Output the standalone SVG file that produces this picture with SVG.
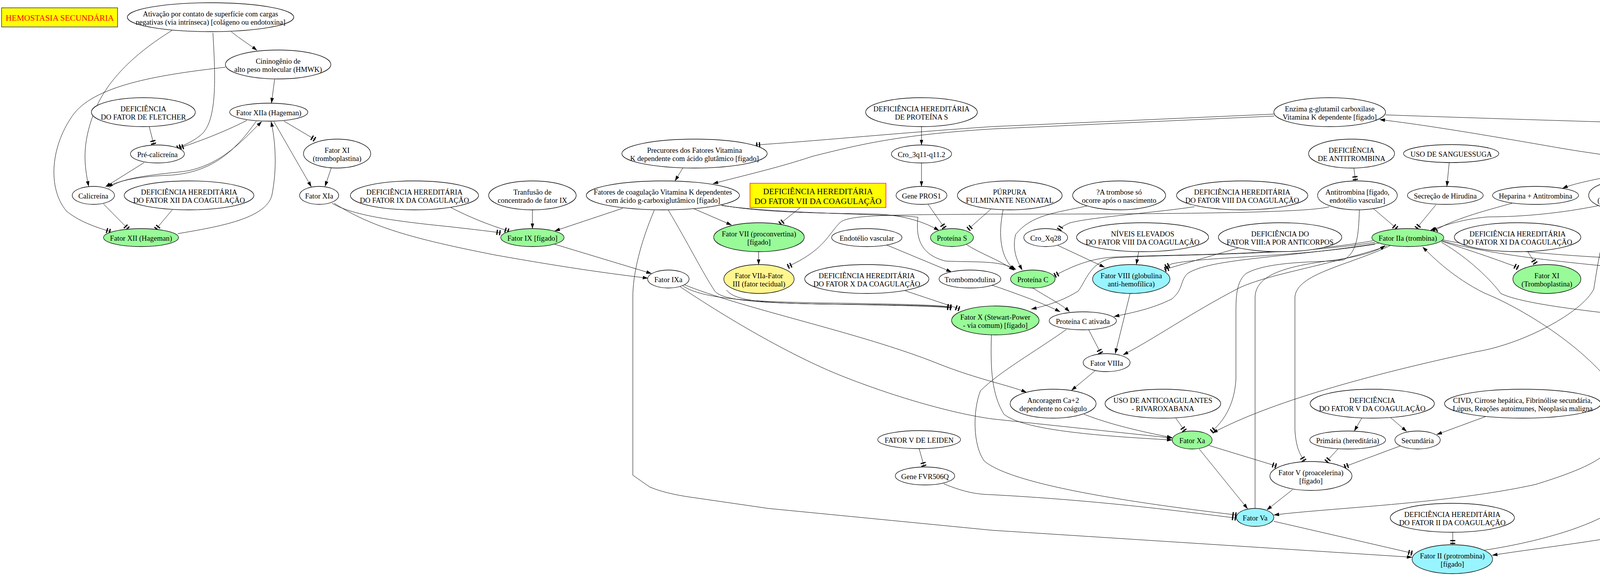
<svg xmlns="http://www.w3.org/2000/svg" width="7621" height="1474" viewBox="0 0 7621 1474">
<style>
ellipse{stroke:#000;stroke-width:1.3;fill:#fff}
ellipse.g{fill:#98fb98}
ellipse.c{fill:#98f5ff}
ellipse.k{fill:#fff68f}
text{font-family:"Liberation Serif","Times New Roman",serif;font-size:18.7px;text-anchor:middle;fill:#000}
.e path{fill:none;stroke:#000;stroke-width:1}
.e path.a{marker-end:url(#a)}
.e path.t{marker-end:url(#t)}
</style>
<defs>
<marker id="a" viewBox="0 0 14 10" refX="13.5" refY="5" markerWidth="14" markerHeight="10" orient="auto" markerUnits="userSpaceOnUse"><path d="M0,0.5L14,5L0,9.5z" fill="#000"/></marker>
<marker id="t" viewBox="0 0 14 14" refX="14" refY="7" markerWidth="14" markerHeight="14" orient="auto" markerUnits="userSpaceOnUse"><path d="M2,0.5h3v13h-3zM9,0.5h3v13h-3z" fill="#000"/></marker>
</defs>
<rect width="7621" height="1474" fill="#fff"/>
<g id="edges" class="e">
<path class="a" d="M592,81C615,100 640,115 658,129"/>
<path class="a" d="M440,78C340,140 270,210 240,290C210,370 215,420 227,477"/>
<path class="t" d="M545,84C552,200 555,300 520,340C500,360 470,372 452,380"/>
<path class="a" d="M703,203L695,264"/>
<path class="t" d="M577,172C420,190 250,215 190,290C130,370 120,480 170,540C200,565 240,580 284,593"/>
<path class="t" d="M382,324L394,371"/>
<path class="t" d="M632,308C570,340 500,365 458,379"/>
<path class="a" d="M369,416L270,478"/>
<path class="a" d="M656,310C600,390 540,440 440,448C340,452 300,465 275,478"/>
<path class="a" d="M278,482C300,460 360,450 460,440C560,430 620,360 670,311"/>
<path class="a" d="M455,598C560,580 680,560 696,500C710,430 705,360 694,311"/>
<path class="t" d="M727,310L808,358"/>
<path class="a" d="M701,311L797,478"/>
<path class="a" d="M848,430L832,477"/>
<path class="t" d="M265,522L329,587"/>
<path class="t" d="M441,537L398,588"/>
<path class="t" d="M850,520C900,550 1000,565 1150,580C1220,588 1255,592 1283,596"/>
<path class="a" d="M855,520C950,580 1050,610 1270,653C1450,685 1560,700 1659,712"/>
<path class="t" d="M1154,531C1200,555 1250,575 1304,592"/>
<path class="a" d="M1363,537L1363,585"/>
<path class="a" d="M1594,533L1420,591"/>
<path class="a" d="M1420,625L1668,700"/>
<path class="a" d="M1748,430L1728,463"/>
<path class="a" d="M1776,534L1873,576"/>
<path class="t" d="M2049,531L1995,574"/>
<path class="a" d="M1942,644L1942,677"/>
<path class="a" d="M1675,538C1640,620 1620,700 1620,760L1620,1216L1663,1246C1700,1262 1750,1270 1780,1274L1966,1301L2540,1357L3615,1426"/>
<path class="t" d="M3261,292L2540,324C2300,340 2100,360 1934,371"/>
<path class="a" d="M3262,297L2540,330C2300,345 2200,370 2080,400C1990,430 1900,450 1825,470"/>
<path class="a" d="M1842,524C1950,545 2100,545 2250,548C2320,552 2370,570 2404,590"/>
<path class="a" d="M1848,526C2000,548 2300,548 2350,556C2345,600 2350,650 2420,668C2500,672 2560,665 2601,690"/>
<path class="t" d="M3403,529C3350,545 3000,548 2540,548C2300,550 2170,548 2150,570C2120,600 2110,640 2015,683"/>
<path class="a" d="M2359,324L2359,371"/>
<path class="a" d="M2359,417L2359,477"/>
<path class="t" d="M2376,523L2419,585"/>
<path class="t" d="M2538,534L2477,588"/>
<path class="a" d="M2568,537C2555,600 2560,660 2598,691"/>
<path class="a" d="M2783,527C2700,545 2640,550 2600,600C2590,640 2605,670 2617,691"/>
<path class="a" d="M2473,625C2510,650 2560,665 2596,692"/>
<path class="a" d="M2270,627L2436,696"/>
<path class="t" d="M1860,742C1880,770 1950,775 2100,778C2300,780 2400,782 2437,787"/>
<path class="t" d="M1746,730C1790,762 1900,772 2100,775C2300,778 2400,780 2437,786"/>
<path class="t" d="M1711,538C1760,620 1800,700 1830,745C1850,770 1950,775 2100,778C2300,781 2400,784 2437,788"/>
<path class="t" d="M2311,742L2458,791"/>
<path class="a" d="M1748,727C1900,790 2200,850 2400,930C2500,970 2580,985 2628,1004"/>
<path class="a" d="M1740,733C1900,840 2050,920 2150,960C2300,1020 2450,1060 2540,1072L3001,1121"/>
<path class="a" d="M2538,857C2535,950 2540,1010 2570,1060C2620,1100 2800,1115 3001,1126"/>
<path class="t" d="M2730,843C2650,900 2560,950 2510,1000C2490,1050 2490,1140 2520,1180C2580,1230 2800,1275 3167,1318"/>
<path class="t" d="M2416,1238C2470,1260 2500,1265 2540,1266C2800,1280 3000,1305 3166,1326"/>
<path class="t" d="M2353,1148L2366,1195"/>
<path class="a" d="M2644,737C2680,760 2720,780 2738,798"/>
<path class="a" d="M2540,730C2600,750 2680,780 2714,798"/>
<path class="a" d="M3520,620C3300,655 3000,650 2850,660C2790,670 2780,720 2760,745C2720,770 2680,782 2640,791"/>
<path class="t" d="M3515,616C3300,655 3000,650 2850,658C2780,662 2730,690 2698,706"/>
<path class="t" d="M3520,625C3300,660 3100,655 3000,675L2982,684"/>
<path class="t" d="M3172,634L2980,690"/>
<path class="a" d="M2706,627L2828,684"/>
<path class="a" d="M2915,644L2909,677"/>
<path class="t" d="M3058,529C2950,545 2800,555 2740,570C2725,576 2715,582 2710,590"/>
<path class="t" d="M3466,430L3470,463"/>
<path class="a" d="M3710,416L3704,477"/>
<path class="t" d="M3676,524L3625,586"/>
<path class="t" d="M3516,534L3577,586"/>
<path class="t" d="M3480,537C3478,600 3475,645 3440,665C3400,672 3250,665 3190,700C3165,720 3164,760 3164,800L3164,970C3160,1040 3130,1080 3100,1106"/>
<path class="a" d="M4093,526C4000,545 3900,555 3810,555C3750,560 3700,575 3661,590"/>
<path class="t" d="M3871,520C3800,540 3720,560 3668,593"/>
<path class="a" d="M3213,1301L3213,760C3215,700 3300,680 3420,665C3490,655 3530,640 3546,628"/>
<path class="a" d="M3800,1408C3950,1385 4100,1340 4150,1290C4200,1230 4195,1100 4150,1020C4080,900 3900,790 3800,750C3720,710 3670,660 3642,632"/>
<path class="t" d="M3560,628C3450,680 3320,700 3315,760L3315,1100C3318,1150 3330,1165 3340,1181"/>
<path class="a" d="M3550,630C3400,680 3250,700 3172,737C3050,800 2950,870 2875,908"/>
<path class="a" d="M3530,622C3300,660 3100,660 3040,700C3020,720 3030,740 3000,765C2950,790 2900,800 2852,810"/>
<path class="t" d="M3690,617C3760,640 3820,660 3860,675C3875,680 3882,683 3888,686"/>
<path class="t" d="M3692,616C3800,650 4000,670 4100,680C4180,688 4210,692 4231,697"/>
<path class="t" d="M3694,614C3900,655 4200,665 4400,670C4600,680 4780,695 4854,705"/>
<path class="a" d="M3690,620C3760,660 3820,720 3842,751C3900,780 4100,800 4248,816"/>
<path class="a" d="M4149,538L4136,780L4136,1125C4120,1170 4060,1200 3930,1240C3700,1290 3400,1300 3261,1318"/>
<path class="a" d="M4130,537C4100,600 4090,680 4080,740C4050,800 3900,880 3780,900C3500,960 3250,1030 3104,1108"/>
<path class="a" d="M4215,526C4300,548 4450,540 4500,570C4540,610 4500,670 4436,697"/>
<path class="a" d="M4230,530C4350,552 4500,545 4550,570C4585,600 4580,700 4582,760C4585,830 4640,870 4778,904"/>
<path class="a" d="M4239,505C4400,530 4560,560 4610,600C4660,660 4700,700 4760,740C4820,775 4860,790 4887,798"/>
<path class="a" d="M4774,644C4790,700 4820,740 4860,770C4880,785 4890,792 4899,798"/>
<path class="t" d="M4818,637L4899,681"/>
<path class="a" d="M4976,644L4972,676"/>
<path class="a" d="M4957,751L4946,797"/>
<path class="t" d="M5189,638C5150,655 5110,672 5053,691"/>
<path class="a" d="M5525,629C5400,660 5200,690 5078,710"/>
<path class="t" d="M3911,644L3932,676"/>
<path class="t" d="M4331,644L4331,677"/>
<path class="a" d="M4331,751L4331,783"/>
<path class="a" d="M4413,833C4550,860 4700,885 4778,906"/>
<path class="a" d="M4782,857L4818,904"/>
<path class="a" d="M4916,844L4867,904"/>
<path class="a" d="M4964,843L5017,892"/>
<path class="a" d="M4304,948C4380,980 4450,1000 4503,1019"/>
<path class="a" d="M4482,950L4531,1011"/>
<path class="t" d="M4624,950L4580,1012"/>
<path class="a" d="M4786,948C4700,980 4650,1000 4602,1019"/>
<path class="a" d="M4843,950L4843,1011"/>
<path class="a" d="M5060,964L5060,1011"/>
<path class="t" d="M4347,1254L4336,1301"/>
<path class="a" d="M4280,1343C4150,1380 3950,1400 3820,1421"/>
<path class="a" d="M4328,412C4200,440 4050,460 4000,482"/>
<path class="a" d="M4452,324L4452,356"/>
<path class="a" d="M3547,294C4000,310 4700,330 5200,340C5400,345 5550,350 5619,365"/>
<path class="a" d="M5760,579C5600,520 5400,500 5080,484C4800,470 4300,430 4000,380C3800,345 3650,320 3532,306"/>
<path class="t" d="M5686,324L5686,356"/>
<path class="a" d="M5756,319C5800,360 5820,420 5823,477"/>
<path class="a" d="M5983,324L5981,356"/>
<path class="a" d="M6266,68L6266,142"/>
<path class="a" d="M6266,188L6266,264"/>
<path class="a" d="M6260,310L6249,371"/>
<path class="a" d="M6181,413C6100,440 6000,465 5896,484"/>
<path class="t" d="M5537,421C5600,450 5700,472 5748,483"/>
<path class="a" d="M5732,428L5793,478"/>
<path class="t" d="M5930,428L5857,479"/>
<path class="a" d="M5517,425C5600,500 5700,550 5768,577"/>
<path class="a" d="M5823,523L5823,570"/>
<path class="a" d="M6492,81L6510,128"/>
<path class="t" d="M6717,78L6593,137"/>
<path class="t" d="M6789,81L6789,128"/>
<path class="t" d="M7055,81L7055,142"/>
<path class="t" d="M7391,81L7391,113"/>
<path class="a" d="M7391,218L7391,264"/>
<path class="a" d="M3486,1070L3467,1103"/>
<path class="a" d="M3559,1068L3601,1104"/>
<path class="a" d="M3803,1066L3678,1112"/>
<path class="t" d="M3425,1149L3394,1183"/>
<path class="t" d="M3585,1141L3440,1195"/>
<path class="t" d="M3095,1140L3269,1193"/>
<path class="a" d="M3070,1149L3194,1302"/>
<path class="a" d="M3309,1253L3243,1305"/>
<path class="t" d="M3261,1334L3617,1416"/>
<path class="t" d="M3719,1362L3719,1394"/>
<path class="t" d="M2787,844L2819,906"/>
<path class="a" d="M2893,751L2855,905"/>
<path class="a" d="M2803,949L2743,999"/>
<path class="a" d="M2775,1060C2850,1090 2950,1110 3001,1120"/>
<path class="t" d="M3010,1070L3034,1104"/>
</g>
<g id="n_hemo"><rect x="4" y="20" width="297" height="49" fill="#ffff00" stroke="#0000ff" stroke-width="1.3"/><text x="153" y="53" style="font-size:21.3px;fill:#ff0000">HEMOSTASIA SECUNDÁRIA</text></g>
<g id="n_ativ"><ellipse cx="539" cy="44" rx="213" ry="37"/><text x="539" y="41.5">Ativação por contato de superfície com cargas<tspan x="539" dy="21.5">negativas (via intrínseca) [colágeno ou endotoxina]</tspan></text></g>
<g id="n_cinin"><ellipse cx="712" cy="165" rx="135" ry="37"/><text x="712" y="162.5">Cininogênio de<tspan x="712" dy="21.5">alto peso molecular (HMWK)</tspan></text></g>
<g id="n_f12a"><ellipse cx="688" cy="287" rx="100" ry="23"/><text x="688" y="294.5">Fator XIIa (Hageman)</text></g>
<g id="n_fletch"><ellipse cx="367" cy="287" rx="133" ry="37"/><text x="367" y="284.5">DEFICIÊNCIA<tspan x="367" dy="21.5">DO FATOR DE FLETCHER</tspan></text></g>
<g id="n_precal"><ellipse cx="403" cy="394" rx="69" ry="23"/><text x="403" y="401.5">Pré-calicreína</text></g>
<g id="n_f11"><ellipse cx="863" cy="393" rx="86" ry="37"/><text x="863" y="390.5">Fator XI<tspan x="863" dy="21.5">(tromboplastina)</tspan></text></g>
<g id="n_calic"><ellipse cx="239" cy="500" rx="54" ry="23"/><text x="239" y="507.5">Calicreína</text></g>
<g id="n_def12"><ellipse cx="484" cy="500" rx="166" ry="37"/><text x="484" y="497.5">DEFICIÊNCIA HEREDITÁRIA<tspan x="484" dy="21.5">DO FATOR XII DA COAGULAÇÃO</tspan></text></g>
<g id="n_f11a"><ellipse cx="817" cy="500" rx="50" ry="23"/><text x="817" y="507.5">Fator XIa</text></g>
<g id="n_def9"><ellipse cx="1061" cy="500" rx="164" ry="37"/><text x="1061" y="497.5">DEFICIÊNCIA HEREDITÁRIA<tspan x="1061" dy="21.5">DO FATOR IX DA COAGULAÇÃO</tspan></text></g>
<g id="n_f12"><ellipse class="g" cx="361" cy="608" rx="96" ry="23"/><text x="361" y="615.5">Fator XII (Hageman)</text></g>
<g id="n_transf"><ellipse cx="1363" cy="500" rx="112" ry="37"/><text x="1363" y="497.5">Tranfusão de<tspan x="1363" dy="21.5">concentrado de fator IX</tspan></text></g>
<g id="n_precur"><ellipse cx="1778" cy="393" rx="186" ry="37"/><text x="1778" y="390.5">Precurores dos Fatores Vitamina<tspan x="1778" dy="21.5">K dependente com ácido glutâmico [fígado]</tspan></text></g>
<g id="n_defS"><ellipse cx="2359" cy="287" rx="143" ry="37"/><text x="2359" y="284.5">DEFICIÊNCIA HEREDITÁRIA<tspan x="2359" dy="21.5">DE PROTEÍNA S</tspan></text></g>
<g id="n_cro3"><ellipse cx="2359" cy="394" rx="77" ry="23"/><text x="2359" y="401.5">Cro_3q11-q11.2</text></g>
<g id="n_fatvk"><ellipse cx="1697" cy="500" rx="196" ry="37"/><text x="1697" y="497.5">Fatores de coagulação Vitamina K dependentes<tspan x="1697" dy="21.5">com ácido g-carboxiglutâmico [fígado]</tspan></text></g>
<g id="n_def7"><rect x="1920" y="469" width="348" height="62" fill="#ffff00" stroke="#ff0000" stroke-width="1.3"/><text x="2094" y="496.5" style="font-size:21.3px">DEFICIÊNCIA HEREDITÁRIA<tspan x="2094" dy="25">DO FATOR VII DA COAGULAÇÃO</tspan></text></g>
<g id="n_pros1"><ellipse cx="2359" cy="500" rx="65" ry="23"/><text x="2359" y="507.5">Gene PROS1</text></g>
<g id="n_purp"><ellipse cx="2585" cy="500" rx="134" ry="37"/><text x="2585" y="497.5">PÚRPURA<tspan x="2585" dy="21.5">FULMINANTE NEONATAL</tspan></text></g>
<g id="n_f9"><ellipse class="g" cx="1363" cy="608" rx="81" ry="23"/><text x="1363" y="615.5">Fator IX [fígado]</text></g>
<g id="n_f7"><ellipse class="g" cx="1943" cy="607" rx="116" ry="37"/><text x="1943" y="604.5">Fator VII (proconvertina)<tspan x="1943" dy="21.5">[fígado]</tspan></text></g>
<g id="n_endot"><ellipse cx="2219" cy="608" rx="90" ry="23"/><text x="2219" y="615.5">Endotélio vascular</text></g>
<g id="n_protS"><ellipse class="g" cx="2437" cy="608" rx="55" ry="23"/><text x="2437" y="615.5">Proteína S</text></g>
<g id="n_f9a"><ellipse cx="1711" cy="714" rx="53" ry="23"/><text x="1711" y="721.5">Fator IXa</text></g>
<g id="n_f7a"><ellipse class="k" cx="1943" cy="714" rx="90" ry="37"/><text x="1943" y="711.5">Fator VIIa-Fator<tspan x="1943" dy="21.5">III (fator tecidual)</tspan></text></g>
<g id="n_def10"><ellipse cx="2219" cy="714" rx="159" ry="37"/><text x="2219" y="711.5">DEFICIÊNCIA HEREDITÁRIA<tspan x="2219" dy="21.5">DO FATOR X DA COAGULAÇÃO</tspan></text></g>
<g id="n_tmod"><ellipse cx="2483" cy="714" rx="79" ry="23"/><text x="2483" y="721.5">Trombomodulina</text></g>
<g id="n_ggc"><ellipse cx="3404" cy="287" rx="143" ry="37"/><text x="3404" y="284.5">Enzima g-glutamil carboxilase<tspan x="3404" dy="21.5">Vitamina K dependente [fígado]</tspan></text></g>
<g id="n_defAT"><ellipse cx="3460" cy="393" rx="110" ry="37"/><text x="3460" y="390.5">DEFICIÊNCIA<tspan x="3460" dy="21.5">DE ANTITROMBINA</tspan></text></g>
<g id="n_sang"><ellipse cx="3715" cy="393" rx="122" ry="23"/><text x="3715" y="400.5">USO DE SANGUESSUGA</text></g>
<g id="n_atromb"><ellipse cx="2865" cy="500" rx="119" ry="37"/><text x="2865" y="497.5">?A trombose só<tspan x="2865" dy="21.5">ocorre após o nascimento</tspan></text></g>
<g id="n_def8"><ellipse cx="3180" cy="500" rx="168" ry="37"/><text x="3180" y="497.5">DEFICIÊNCIA HEREDITÁRIA<tspan x="3180" dy="21.5">DO FATOR VIII DA COAGULAÇÃO</tspan></text></g>
<g id="n_at"><ellipse cx="3475" cy="500" rx="102" ry="37"/><text x="3475" y="497.5">Antitrombina [fígado,<tspan x="3475" dy="21.5">endotélio vascular]</tspan></text></g>
<g id="n_hir"><ellipse cx="3700" cy="500" rx="97" ry="23"/><text x="3700" y="507.5">Secreção de Hirudina</text></g>
<g id="n_croX"><ellipse cx="2677" cy="608" rx="56" ry="23"/><text x="2677" y="615.5">Cro_Xq28</text></g>
<g id="n_niv8"><ellipse cx="2925" cy="607" rx="169" ry="37"/><text x="2925" y="604.5">NÍVEIS ELEVADOS<tspan x="2925" dy="21.5">DO FATOR VIII DA COAGULAÇÃO</tspan></text></g>
<g id="n_def8ac"><ellipse cx="3277" cy="607" rx="158" ry="37"/><text x="3277" y="604.5">DEFICIÊNCIA DO<tspan x="3277" dy="21.5">FATOR VIII:A POR ANTICORPOS</tspan></text></g>
<g id="n_f2a"><ellipse class="g" cx="3604" cy="608" rx="92" ry="23"/><text x="3604" y="615.5">Fator IIa (trombina)</text></g>
<g id="n_def11"><ellipse cx="3885" cy="607" rx="162" ry="37"/><text x="3885" y="604.5">DEFICIÊNCIA HEREDITÁRIA<tspan x="3885" dy="21.5">DO FATOR XI DA COAGULAÇÃO</tspan></text></g>
<g id="n_protC"><ellipse class="g" cx="2644" cy="714" rx="57" ry="23"/><text x="2644" y="721.5">Proteína C</text></g>
<g id="n_f8"><ellipse class="c" cx="2896" cy="714" rx="99" ry="37"/><text x="2896" y="711.5">Fator VIII (globulina<tspan x="2896" dy="21.5">anti-hemofílica)</tspan></text></g>
<g id="n_useHep"><ellipse cx="4452" cy="287" rx="146" ry="37"/><text x="4452" y="284.5">USO DE ANTICOAGULANTES<tspan x="4452" dy="21.5">- HEPARINA</tspan></text></g>
<g id="n_hep"><ellipse class="c" cx="4452" cy="393" rx="134" ry="37"/><text x="4452" y="390.5">Heparina (glicosaminoglicano)<tspan x="4452" dy="21.5">[mastócitos]</tspan></text></g>
<g id="n_hepAT"><ellipse cx="3931" cy="500" rx="110" ry="23"/><text x="3931" y="507.5">Heparina + Antitrombina</text></g>
<g id="n_f4"><ellipse cx="4153" cy="500" rx="86" ry="37"/><text x="4153" y="497.5">Fator IV<tspan x="4153" dy="21.5">(cálcio) [plasma]</tspan></text></g>
<g id="n_def1"><ellipse cx="4331" cy="607" rx="155" ry="37"/><text x="4331" y="604.5">DEFICIÊNCIA HEREDITÁRIA<tspan x="4331" dy="21.5">DO FATOR I DA COAGULAÇÃO</tspan></text></g>
<g id="n_f2af"><ellipse cx="4760" cy="607" rx="94" ry="37"/><text x="4760" y="604.5">Fator IIa<tspan x="4760" dy="21.5">(trombina) [fígado]</tspan></text></g>
<g id="n_f13A"><ellipse cx="4983" cy="607" rx="102" ry="37"/><text x="4983" y="604.5">Fator XIII:subunidade<tspan x="4983" dy="21.5">A [medula óssea]</tspan></text></g>
<g id="n_f11T"><ellipse class="g" cx="3960" cy="714" rx="87" ry="37"/><text x="3960" y="711.5">Fator XI<tspan x="3960" dy="21.5">(Tromboplastina)</tspan></text></g>
<g id="n_f1"><ellipse cx="4332" cy="714" rx="100" ry="37"/><text x="4332" y="711.5">Fator I (fibrinogênio)<tspan x="4332" dy="21.5">[fígado]</tspan></text></g>
<g id="n_f13"><ellipse class="c" cx="4965" cy="714" rx="112" ry="37"/><text x="4965" y="711.5">Fator XIII (estabilizador<tspan x="4965" dy="21.5">de fibrina)</tspan></text></g>
<g id="n_dieta"><ellipse cx="6268" cy="44" rx="37" ry="23"/><text x="6268" y="51.5">Dieta</text></g>
<g id="n_absG"><ellipse cx="6266" cy="165" rx="100" ry="23"/><text x="6266" y="172.5">Absorção de gorduras</text></g>
<g id="n_absVK"><ellipse cx="6268" cy="287" rx="108" ry="23"/><text x="6268" y="294.5">Absorção de Vitamina K</text></g>
<g id="n_vkorF"><ellipse cx="5684" cy="287" rx="128" ry="37"/><text x="5684" y="284.5">Enzima Vitamina<tspan x="5684" dy="21.5">K epóxido redutase [fígado]</tspan></text></g>
<g id="n_cuma"><ellipse cx="5985" cy="287" rx="146" ry="37"/><text x="5985" y="284.5">USO DE ANTICOAGULANTES<tspan x="5985" dy="21.5">- CUMARÍNICOS</tspan></text></g>
<g id="n_vkredF"><ellipse cx="5468" cy="393" rx="96" ry="37"/><text x="5468" y="390.5">Enzima Vitamina<tspan x="5468" dy="21.5">K redutase [fígado]</tspan></text></g>
<g id="n_epox"><ellipse cx="5687" cy="393" rx="98" ry="37"/><text x="5687" y="390.5">Epóxido<tspan x="5687" dy="21.5">de Vitamina K (K0)</tspan></text></g>
<g id="n_antag"><ellipse cx="5980" cy="393" rx="116" ry="37"/><text x="5980" y="390.5">Antagonistas<tspan x="5980" dy="21.5">da Vitamina K (lactonas)</tspan></text></g>
<g id="n_vkPl"><ellipse cx="6241" cy="394" rx="94" ry="23"/><text x="6241" y="401.5">Vitamina K [plasma]</text></g>
<g id="n_vkF"><ellipse class="g" cx="5823" cy="500" rx="91" ry="23"/><text x="5823" y="507.5">Vitamina K [fígado]</text></g>
<g id="n_def13"><ellipse cx="5281" cy="607" rx="169" ry="37"/><text x="5281" y="604.5">DEFICIÊNCIA HEREDITÁRIA<tspan x="5281" dy="21.5">DO FATOR XIII DA COAGULAÇÃO</tspan></text></g>
<g id="n_val34"><ellipse cx="5587" cy="608" rx="111" ry="23"/><text x="5587" y="615.5">FATOR XIII VAL34LEU</text></g>
<g id="n_kh2"><ellipse cx="5823" cy="607" rx="99" ry="37"/><text x="5823" y="604.5">Vitamina<tspan x="5823" dy="21.5">KH2 (hidroquinona)</tspan></text></g>
<g id="n_defVKR"><ellipse cx="6473" cy="44" rx="142" ry="37"/><text x="6473" y="41.5">DEFICIÊNCIA<tspan x="6473" dy="21.5">DA VITAMINA K REDUTASE</tspan></text></g>
<g id="n_warf"><ellipse cx="6789" cy="44" rx="147" ry="37"/><text x="6789" y="41.5">USO DE ANTICOAGULANTES<tspan x="6789" dy="21.5">- WARFARINA</tspan></text></g>
<g id="n_defC"><ellipse cx="7054" cy="44" rx="92" ry="37"/><text x="7054" y="41.5">DEFICIÊNCIA<tspan x="7054" dy="21.5">DE PROTEÍNA C</tspan></text></g>
<g id="n_hipo"><ellipse cx="7391" cy="44" rx="127" ry="37"/><text x="7391" y="41.5">HIPOVITAMINOSE<tspan x="7391" dy="21.5">K COM COAGULOPATIA</tspan></text></g>
<g id="n_vkr"><ellipse class="g" cx="6528" cy="165" rx="99" ry="37"/><text x="6528" y="162.5">Enzima<tspan x="6528" dy="21.5">Vitamina K redutase</tspan></text></g>
<g id="n_vkor"><ellipse class="g" cx="6789" cy="165" rx="96" ry="37"/><text x="6789" y="162.5">Enzima Vitamina<tspan x="6789" dy="21.5">K epóxido redutase</tspan></text></g>
<g id="n_protCf"><ellipse cx="7055" cy="165" rx="89" ry="23"/><text x="7055" y="172.5">Proteína C [fígado]</text></g>
<g id="n_vk1"><ellipse cx="7391" cy="165" rx="223" ry="52"/><text x="7391" y="152.5">Vitamina K1 (Fitonadiona)<tspan x="7391" dy="21.6">vegetal. Vitamina K2 (Menaquinona) flora intestinal.</tspan><tspan x="7391" dy="21.6">Vitamina K3 (Menadiona) sintética.</tspan></text></g>
<g id="n_absvk2"><ellipse cx="7391" cy="287" rx="107" ry="23"/><text x="7391" y="294.5">Absorção de vitamina K</text></g>
<g id="n_f10"><ellipse class="g" cx="2548" cy="820" rx="112" ry="37"/><text x="2548" y="817.5">Fator X (Stewart-Power<tspan x="2548" dy="21.5">- via comum) [fígado]</tspan></text></g>
<g id="n_leiden"><ellipse cx="2353" cy="1125" rx="106" ry="23"/><text x="2353" y="1132.5">FATOR V DE LEIDEN</text></g>
<g id="n_fvr"><ellipse cx="2368" cy="1218" rx="76" ry="23"/><text x="2368" y="1225.5">Gene FVR506Q</text></g>
<g id="n_pca"><ellipse cx="2772" cy="821" rx="86" ry="23"/><text x="2772" y="828.5">Proteína C ativada</text></g>
<g id="n_f8a"><ellipse cx="2833" cy="928" rx="60" ry="23"/><text x="2833" y="935.5">Fator VIIIa</text></g>
<g id="n_ancor"><ellipse cx="2696" cy="1033" rx="110" ry="37"/><text x="2696" y="1030.5">Ancoragem Ca+2<tspan x="2696" dy="21.5">dependente no coágulo</tspan></text></g>
<g id="n_rivar"><ellipse cx="2977" cy="1033" rx="148" ry="37"/><text x="2977" y="1030.5">USO DE ANTICOAGULANTES<tspan x="2977" dy="21.5">- RIVAROXABANA</tspan></text></g>
<g id="n_def5"><ellipse cx="3513" cy="1033" rx="159" ry="37"/><text x="3513" y="1030.5">DEFICIÊNCIA<tspan x="3513" dy="21.5">DO FATOR V DA COAGULAÇÃO</tspan></text></g>
<g id="n_civd"><ellipse cx="3898" cy="1033" rx="200" ry="37"/><text x="3898" y="1030.5">CIVD, Cirrose hepática, Fibrinólise secundária,<tspan x="3898" dy="21.5">Lúpus, Reações autoimunes, Neoplasia maligna</tspan></text></g>
<g id="n_f10a"><ellipse class="g" cx="3052" cy="1126" rx="51" ry="23"/><text x="3052" y="1133.5">Fator Xa</text></g>
<g id="n_prim"><ellipse cx="3450" cy="1126" rx="97" ry="23"/><text x="3450" y="1133.5">Primária (hereditária)</text></g>
<g id="n_sec"><ellipse cx="3629" cy="1126" rx="58" ry="23"/><text x="3629" y="1133.5">Secundária</text></g>
<g id="n_f5"><ellipse cx="3356" cy="1218" rx="105" ry="37"/><text x="3356" y="1215.5">Fator V (proacelerina)<tspan x="3356" dy="21.5">[fígado]</tspan></text></g>
<g id="n_f5a"><ellipse class="c" cx="3213" cy="1324" rx="48" ry="23"/><text x="3213" y="1331.5">Fator Va</text></g>
<g id="n_def2"><ellipse cx="3718" cy="1325" rx="159" ry="37"/><text x="3718" y="1322.5">DEFICIÊNCIA HEREDITÁRIA<tspan x="3718" dy="21.5">DO FATOR II DA COAGULAÇÃO</tspan></text></g>
<g id="n_f2"><ellipse class="c" cx="3718" cy="1431" rx="103" ry="37"/><text x="3718" y="1428.5">Fator II (protrombina)<tspan x="3718" dy="21.5">[fígado]</tspan></text></g>
<g id="n_f1a"><ellipse cx="4331" cy="820" rx="82" ry="37"/><text x="4331" y="817.5">Fator Ia<tspan x="4331" dy="21.5">solúvel (fibrina)</tspan></text></g>
<g id="n_ades"><ellipse cx="4747" cy="820" rx="106" ry="37"/><text x="4747" y="817.5">Adesão das<tspan x="4747" dy="21.5">plaquetas ao colágeno</tspan></text></g>
<g id="n_f13a"><ellipse cx="4937" cy="821" rx="60" ry="23"/><text x="4937" y="828.5">Fator XIIIa</text></g>
<g id="n_prolif"><ellipse cx="5059" cy="927" rx="79" ry="37"/><text x="5059" y="924.5">Proliferação<tspan x="5059" dy="21.5">de fibroblastos</tspan></text></g>
<g id="n_aimp"><ellipse cx="4256" cy="927" rx="82" ry="23"/><text x="4256" y="934.5">Áreas de impacto</text></g>
<g id="n_atrau"><ellipse cx="4461" cy="927" rx="98" ry="23"/><text x="4461" y="934.5">Áreas de traumatismo</text></g>
<g id="n_hemost"><ellipse cx="4645" cy="927" rx="60" ry="23"/><text x="4645" y="934.5">Hemostasia</text></g>
<g id="n_rede"><ellipse class="c" cx="4844" cy="927" rx="112" ry="23"/><text x="4844" y="934.5">Rede de fibrina-hemácias</text></g>
<g id="n_hemorr"><ellipse cx="4553" cy="1034" rx="61" ry="23"/><text x="4553" y="1041.5">Hemorragia</text></g>
<g id="n_tromb"><ellipse cx="4843" cy="1034" rx="53" ry="23"/><text x="4843" y="1041.5">Trombose</text></g>
<g id="n_cicat"><ellipse cx="5059" cy="1034" rx="62" ry="23"/><text x="5059" y="1041.5">Cicatrização</text></g>
<g id="n_mut"><ellipse cx="4359" cy="1218" rx="134" ry="37"/><text x="4359" y="1215.5">MUTAÇÃO DO<tspan x="4359" dy="21.5">GENE DA PROTROMBINA</tspan></text></g>
<g id="n_g202"><ellipse cx="4329" cy="1324" rx="75" ry="23"/><text x="4329" y="1331.5">Gene G20210A</text></g>
</svg>
